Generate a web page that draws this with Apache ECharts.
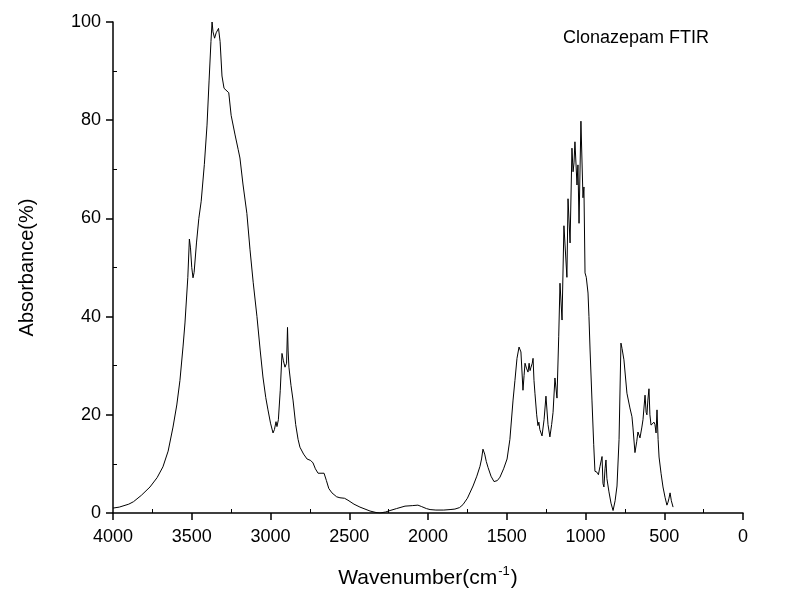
<!DOCTYPE html>
<html>
<head>
<meta charset="utf-8">
<script src="https://cdn.jsdelivr.net/npm/echarts@6/dist/echarts.min.js"></script>
<style>html,body{margin:0;padding:0;background:#fff}#c{width:785px;height:590px}</style>
</head>
<body>
<div id="c"></div>
<script>
var wavenumbers = [4000,3960,3900,3870,3820,3765,3720,3683,3650,3619,3595,3575,3555,3543,3525,3515,3508,3500,3492,3485,3470,3455,3440,3420,3403,3390,3378,3371,3365,3355,3345,3330,3320,3308,3295,3285,3265,3250,3225,3205,3194,3175,3150,3130,3110,3086,3065,3048,3030,3016,3000,2984,2975,2965,2959,2950,2938,2927,2918,2908,2898,2892,2888,2883,2870,2857,2840,2825,2813,2790,2768,2745,2730,2715,2698,2686,2660,2645,2630,2610,2580,2559,2530,2508,2470,2432,2400,2368,2330,2305,2270,2241,2200,2146,2100,2064,2040,2010,1987,1950,1900,1860,1829,1800,1778,1750,1714,1690,1670,1660,1651,1640,1630,1619,1600,1581,1560,1543,1520,1498,1480,1460,1448,1435,1422,1410,1397,1390,1384,1375,1365,1358,1352,1346,1338,1333,1327,1321,1310,1302,1296,1290,1276,1263,1251,1238,1226,1215,1206,1194,1181,1170,1162,1149,1137,1118,1111,1098,1086,1079,1073,1067,1054,1048,1041,1029,1016,1010,1003,995,984,978,971,959,948,940,927,918,908,895,889,883,876,870,864,851,838,825,812,800,787,775,768,756,737,718,705,699,686,675,667,654,642,635,622,615,610,604,597,591,584,572,565,559,552,546,539,533,520,508,495,483,476,470,463,455,444];
var absorbance = [1.0,1.2,1.8,2.3,3.6,5.3,7.2,9.4,12.6,17.5,22,27,34,38.7,48,55.8,54,50,47.9,49,55,60,63.5,71,79,88,96,100,98,96.7,97.8,98.7,96,89,86.5,86.2,85.6,81,77,74,72.3,67,61,53.6,47,40,33,27.7,23.5,21,18.3,16.3,17,18.6,17.6,19,25,32.5,31,29.7,30.5,37.8,33,29.7,26,23,18,15,13.4,12,11,10.7,10.2,9,8.1,7.9,8.1,6.6,5,4.1,3.3,3.1,3,2.6,1.8,1.2,0.8,0.4,0.1,0.0,0.2,0.5,0.9,1.4,1.5,1.6,1.3,0.9,0.7,0.6,0.6,0.7,0.8,1.1,1.7,3.0,5.5,7.5,9.5,11,13,12,10.5,9.3,7.5,6.4,6.6,7.3,9,11,15,23,27,31.5,33.8,32.8,25,28,30.5,29.5,28.7,30.5,29,29.7,30.5,31.5,27,24.4,20,17.8,18.5,17,15.7,19,23.8,18,15.5,18,20.5,27.5,23.4,36,46.8,39.3,58.5,48,64,55,74.3,69.5,71.3,75.6,66.8,70.9,59,79.8,64.2,66.4,48.9,48,44.8,40,33.2,23,14,8.5,8.3,7.8,9.5,11.5,6,5.3,9,10.8,7,4.3,2,0.5,2.5,5.5,15,34.6,33.5,31.2,24.4,21.4,19.6,17.5,12.3,14.5,16.5,15.3,17.5,19,24,20.5,20,23,25.3,20,17.9,17.9,18.5,18,16.3,21,15,11.4,8,5.3,3.2,1.6,2.2,3,4.1,2.5,1.2];
var xTicks = [4000,3500,3000,2500,2000,1500,1000,500,0];
var yTicks = [0,20,40,60,80,100];
var chartTitle = 'Clonazepam FTIR';

var points = wavenumbers.map(function(w,i){return [w, absorbance[i]];});
var chart = echarts.init(document.getElementById('c'), null, {renderer:'canvas'});
var font = 'Arial, "Liberation Sans", sans-serif';
chart.setOption({
  animation:false,
  backgroundColor:'#fff',
  title:{text:chartTitle,left:558,top:24,textStyle:{fontFamily:font,fontSize:18,fontWeight:'normal',color:'#000'}},
  grid:{left:113,right:42,top:22,bottom:77,containLabel:false,outerBoundsMode:'none'},
  xAxis:{
    type:'value',inverse:true,min:xTicks[xTicks.length-1],max:xTicks[0],interval:500,
    name:'{a|Wavenumber(cm}{s|-1}{a|)}',nameLocation:'middle',nameGap:52,
    nameTextStyle:{rich:{a:{fontFamily:font,fontSize:21,color:'#000',lineHeight:26},s:{fontFamily:font,fontSize:13,color:'#000',verticalAlign:'top',lineHeight:26,padding:[0,1,10,1]}}},
    axisLine:{onZero:false,lineStyle:{color:'#000',width:1.5}},
    axisTick:{show:true,length:7,lineStyle:{color:'#000',width:1.5}},
    minorTick:{show:true,splitNumber:2,length:-4,lineStyle:{color:'#000',width:1}},
    axisLabel:{fontFamily:font,fontSize:18,color:'#000',margin:15,formatter:function(v){return String(v);}},
    splitLine:{show:false}
  },
  yAxis:{
    type:'value',position:'left',min:yTicks[0],max:yTicks[yTicks.length-1],interval:20,
    name:'Absorbance(%)',nameLocation:'middle',nameGap:76,
    nameTextStyle:{fontFamily:font,fontSize:20,color:'#000'},
    axisLine:{show:true,onZero:false,lineStyle:{color:'#000',width:1.5}},
    axisTick:{show:true,length:7,lineStyle:{color:'#000',width:1.5}},
    minorTick:{show:true,splitNumber:2,length:-4,lineStyle:{color:'#000',width:1}},
    axisLabel:{fontFamily:font,fontSize:18,color:'#000',margin:12,formatter:function(v){return String(v);}},
    splitLine:{show:false}
  },
  series:[{type:'line',data:points,showSymbol:false,symbol:'none',lineStyle:{color:'#000',width:1},silent:true}]
});
</script>
</body>
</html>
